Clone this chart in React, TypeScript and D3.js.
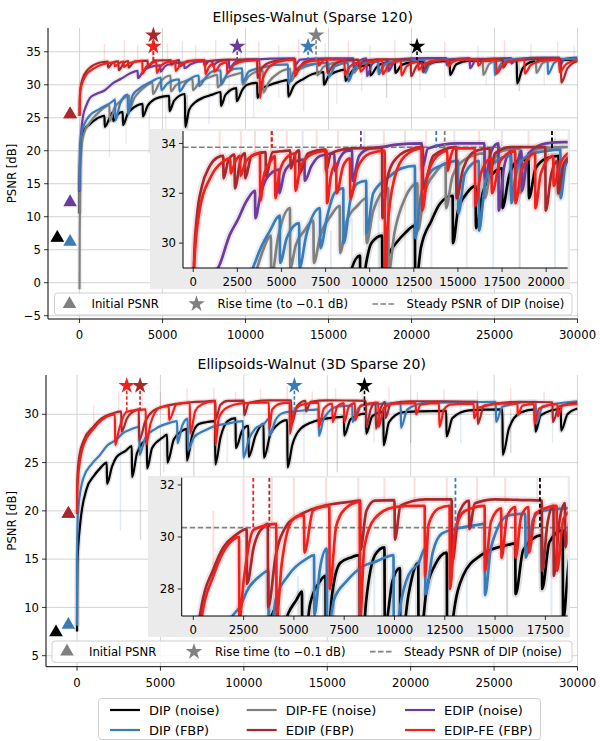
import React from "react"
import * as d3 from "d3"

type P = [number, number]

// methods, in legend order of the original figure
const METHOD_NAMES = ["DIP (noise)", "DIP-FE (noise)", "EDIP (noise)", "DIP (FBP)", "EDIP (FBP)", "EDIP-FE (FBP)"]
const METHOD_COLORS = ["#000000", "#808080", "#6a3d9a", "#3b7bb8", "#a8282c", "#f0201c"]
const LEGEND_ORDER = [0, 3, 1, 4, 2, 5]
// initial-PSNR markers are stacked so that DIP covers DIP-FE and EDIP covers EDIP-FE
const MARKER_ORDER = [5, 1, 0, 2, 3, 4]

// ---- Ellipses-Walnut (Sparse 120): PSNR curves ----
const TOP_DIP_NOISE: P[] = [
  [0, 10.5], [8, 14], [30, 18.5], [100, 21.5], [250, 23], [600, 24], [1000, 24.8], [1230, 25.1], [1500, 25.3],
  [1520, 23.6], [1800, 24.9], [2000, 25.8], [2030, 24.5], [2300, 25.5], [2600, 25.9], [2620, 23.9], [2900, 25.6],
  [3300, 26.6], [3800, 27.1], [3820, 25.2], [4100, 26.8], [4400, 27.6], [5000, 28.2], [5400, 28.3], [5420, 26.0],
  [5700, 27.6], [6350, 28.6], [6370, 23.6], [6600, 26.2], [7000, 27.4], [7500, 28.1], [8000, 28.5], [8500, 28.9],
  [8520, 26.8], [8800, 28.5], [9450, 29.5], [9470, 27.5], [9800, 29.2], [10100, 30.0], [10700, 30.3], [10720, 28.0],
  [11000, 29.4], [11500, 30.0], [12000, 30.4], [12560, 30.7], [12580, 28.2], [12900, 29.8], [13500, 30.9],
  [14000, 31.6], [14700, 31.9], [14720, 30.0], [15000, 31.3], [15500, 32.0], [16000, 32.3], [16020, 30.6],
  [16400, 32.0], [17000, 32.8], [17500, 33.0], [17520, 31.4], [17900, 32.7], [18400, 33.3], [19000, 33.35],
  [19020, 31.8], [19400, 33.0], [20000, 33.4], [20700, 33.5], [20720, 32.0], [21000, 33.0], [21500, 33.5],
  [22300, 33.6], [22320, 31.5], [22700, 33.1], [23500, 33.65], [25000, 33.7], [26340, 33.75], [26360, 30.2],
  [26700, 32.5], [27300, 33.5], [28500, 33.75], [30000, 33.8],
]
const TOP_DIPFE_NOISE: P[] = [
  [0, -1], [10, 8], [40, 16], [100, 20], [250, 22.5], [600, 24.2], [1235, 26.0], [1800, 26.9], [1820, 24.5],
  [2100, 26.5], [2500, 27.6], [3000, 28.3], [3020, 26.4], [3300, 28.0], [3590, 28.9], [3900, 29.6], [4400, 30.3],
  [4420, 28.6], [4800, 30.2], [5480, 31.4], [5500, 29.0], [5800, 29.9], [6300, 30.5], [6810, 30.9], [6830, 29.2],
  [7200, 30.3], [7800, 31.1], [8300, 31.5], [8320, 29.6], [8700, 30.9], [9300, 31.5], [9800, 31.8], [9820, 30.0],
  [10200, 31.3], [11050, 32.2], [11070, 28.8], [11400, 30.4], [12000, 31.8], [12700, 32.4], [12720, 30.5],
  [13100, 32.0], [13700, 32.8], [14300, 33.2], [14320, 31.4], [14700, 32.7], [15500, 33.4], [16500, 33.6],
  [16520, 31.8], [16900, 33.1], [17500, 33.7], [18500, 33.8], [18520, 32.0], [18900, 33.3], [19600, 33.8],
  [21000, 33.85], [23000, 33.9], [24300, 33.9], [24320, 31.5], [24700, 33.2], [25500, 33.85], [27500, 33.9],
  [27520, 31.8], [27900, 33.3], [28600, 33.85], [30000, 33.9],
]
const TOP_EDIP_NOISE: P[] = [
  [0, 13.8], [20, 17], [80, 22], [210, 25.2], [400, 26.8], [630, 28.0], [1000, 28.6], [1475, 29.1], [2080, 30.35],
  [2500, 30.9], [3030, 31.7], [3500, 32.1], [3520, 31.0], [3800, 31.9], [4160, 32.6], [4860, 32.95], [4880, 32.0],
  [5150, 32.8], [5480, 33.15], [6300, 33.35], [6320, 32.5], [6700, 33.1], [7180, 33.5], [8000, 33.6], [8020, 32.9],
  [8300, 33.4], [8700, 33.7], [9000, 33.72], [9020, 32.5], [9400, 33.5], [10000, 33.8], [10600, 33.85],
  [11500, 33.95], [12950, 34.0], [12970, 33.0], [13300, 33.8], [15000, 34.0], [16500, 34.0], [16520, 32.6],
  [16900, 33.7], [17290, 34.0], [17310, 31.3], [17600, 33.0], [18000, 33.7], [18020, 31.8], [18400, 33.3],
  [18600, 33.7], [18620, 32.1], [19000, 33.6], [20000, 34.0], [21000, 34.05], [22100, 34.05], [22120, 33.0],
  [22400, 33.8], [23500, 34.05], [23520, 32.5], [23900, 33.8], [26000, 34.05], [26020, 33.2], [26300, 33.9],
  [28000, 34.1], [28900, 34.1], [28920, 32.8], [29200, 33.9], [30000, 34.1],
]
const TOP_DIP_FBP: P[] = [
  [0, 14], [10, 17], [40, 20.5], [150, 23], [600, 25.3], [1200, 26.3], [2000, 27.5], [2140, 27.8], [2160, 24.6],
  [2450, 27.2], [2900, 28.5], [2920, 25.5], [3200, 28.4], [3600, 29.4], [4350, 30.5], [4900, 31.1], [4920, 29.2],
  [5300, 30.2], [6000, 30.8], [6020, 29.0], [6400, 30.3], [7180, 31.4], [7200, 29.8], [7600, 31.1], [8000, 32.0],
  [8500, 32.2], [8520, 30.0], [8900, 31.7], [9300, 32.4], [9800, 32.5], [9820, 30.4], [10200, 32.0], [11000, 32.6],
  [11800, 33.0], [12560, 33.1], [12580, 30.2], [12900, 31.9], [13500, 32.9], [14000, 33.1], [15000, 33.3],
  [15020, 31.2], [15400, 32.8], [16180, 33.3], [16200, 30.5], [16500, 32.2], [17000, 33.2], [18000, 33.5],
  [18020, 31.6], [18400, 33.1], [19200, 33.6], [20000, 33.7], [20800, 33.75], [20820, 31.8], [21100, 33.2],
  [22000, 33.8], [24000, 33.85], [25000, 33.85], [25020, 31.5], [25400, 33.2], [26000, 33.85], [28200, 33.9],
  [28220, 31.6], [28600, 33.3], [29200, 33.9], [30000, 33.9],
]
const TOP_EDIP_FBP: P[] = [
  [0, 25.3], [10, 27.5], [60, 29.5], [200, 31.0], [500, 32.3], [900, 33.05], [1400, 33.45], [1700, 33.5],
  [1720, 32.6], [2000, 33.35], [2340, 33.55], [2360, 32.2], [2700, 33.4], [2930, 33.6], [2950, 32.6], [3300, 33.5],
  [4100, 33.65], [4120, 32.7], [4500, 33.65], [5200, 33.7], [5500, 33.72], [5520, 33.0], [5800, 33.6],
  [6000, 33.72], [6020, 32.8], [6500, 33.6], [7500, 33.75], [7520, 32.9], [7800, 33.6], [9000, 33.8],
  [10700, 33.82], [10720, 31.0], [11000, 32.6], [11500, 33.4], [12500, 33.8], [13000, 33.85], [13020, 32.2],
  [13600, 33.5], [14900, 33.85], [14920, 31.8], [15300, 33.0], [16000, 33.7], [16800, 33.8], [16820, 32.8],
  [17100, 33.6], [18000, 33.85], [19950, 33.85], [19970, 31.3], [20300, 32.8], [20650, 33.3], [20670, 32.0],
  [21000, 33.2], [22000, 33.75], [24000, 33.85], [25500, 33.88], [25520, 32.6], [25800, 33.5], [27500, 33.9],
  [29000, 33.9], [29020, 30.3], [29400, 32.5], [30000, 33.6],
]
const TOP_EDIPFE_FBP: P[] = [
  [0, 25.3], [40, 29], [380, 31.4], [950, 32.6], [1700, 33.28], [2100, 33.4], [2120, 32.8], [2400, 33.3],
  [2650, 33.5], [2670, 32.7], [3000, 33.3], [3780, 33.6], [3800, 31.7], [4000, 32.7], [4400, 33.3], [4630, 33.5],
  [4650, 31.8], [4900, 32.9], [5400, 33.5], [5770, 33.6], [5790, 32.1], [6100, 33.1], [6800, 33.6], [7560, 33.7],
  [7580, 31.6], [7800, 32.7], [8100, 33.2], [8120, 32.0], [8500, 33.1], [8880, 33.4], [8900, 31.8], [9300, 33.0],
  [10000, 33.6], [10850, 33.7], [10870, 28.0], [11000, 30.5], [11400, 32.6], [12000, 33.5], [12950, 33.8],
  [12970, 31.3], [13300, 32.8], [14000, 33.6], [14400, 33.7], [14420, 32.9], [14600, 33.5], [14800, 33.8],
  [15960, 33.8], [15980, 31.5], [16300, 32.8], [16900, 33.4], [16920, 32.0], [17400, 33.3], [18240, 33.7],
  [18260, 31.6], [18600, 32.9], [19370, 33.6], [19390, 31.4], [19700, 32.8], [20400, 33.5], [20420, 32.3],
  [20800, 33.2], [21500, 33.7], [22200, 33.75], [22220, 32.8], [22500, 33.5], [23000, 33.8], [24000, 33.8],
  [24020, 32.9], [24300, 33.6], [25100, 33.8], [25120, 31.7], [25500, 33.0], [26000, 33.6], [26800, 33.8],
  [26820, 31.7], [27200, 33.0], [28000, 33.7], [28900, 33.8], [28920, 31.9], [29300, 33.1], [30000, 33.7],
]
// initial PSNR markers and rise times (per method index)
const TOP_INIT: P[] = [[-1340, 6.8], [-1340, 6.8], [-570, 12.2], [-570, 6.2], [-570, 25.5], [-570, 25.5]]
const TOP_RISE = [20330, 14250, 9500, 13770, 4450, 4450]
const TOP_STAR_Y = [35.8, 37.5, 35.8, 35.8, 37.5, 35.8]
const TOP_STEADY = 33.85
// faint single-run spikes: [iteration, low, high, method]
const TOP_FAINT: [number, number, number, number][] = [
  [1500, 33.4, 36.2, 5], [2700, 33.4, 36.8, 5], [3500, 33.5, 36.0, 4], [4400, 33.5, 37.0, 5], [5300, 33.5, 36.3, 5],
  [6200, 33.6, 36.6, 2], [7000, 33.6, 36.0, 5], [8200, 33.6, 36.8, 5], [9700, 33.7, 36.2, 3], [10800, 33.7, 36.6, 5],
  [12000, 33.8, 36.0, 2], [13200, 33.8, 36.9, 5], [14800, 33.8, 36.3, 3], [16200, 33.8, 36.7, 5], [17500, 33.9, 36.0, 2],
  [19000, 33.9, 36.8, 5], [20500, 33.9, 36.2, 1], [22000, 33.9, 36.5, 5], [24000, 33.9, 36.0, 3], [25600, 33.9, 36.7, 5],
  [27200, 33.9, 36.1, 2], [28800, 33.9, 36.6, 5], [29800, 33.9, 36.0, 3],
  [1800, 19.0, 26.5, 3], [2800, 21.0, 27.8, 1], [4200, 19.6, 27.5, 3], [5200, 22.0, 28.5, 1], [6500, 20.0, 28.4, 0],
  [7800, 24.0, 30.5, 3], [9000, 27.0, 31.0, 1], [10500, 25.0, 31.8, 3], [12000, 28.0, 32.5, 1], [13500, 26.0, 32.6, 3],
  [15500, 27.0, 33.2, 1], [17000, 29.0, 33.4, 3], [18500, 28.0, 33.5, 0], [20500, 29.0, 33.6, 3], [22000, 28.0, 33.7, 1],
  [24500, 30.0, 33.8, 3], [26500, 29.0, 33.8, 0], [28000, 30.0, 33.8, 1],
]

// ---- Ellipsoids-Walnut (3D Sparse 20) ----
const BOT_DIP_NOISE: P[] = [
  [0, 7.5], [5, 11], [20, 14.5], [180, 18.5], [580, 22.3], [1000, 23.6], [1380, 24.4], [1780, 25.0], [1800, 22.8],
  [2100, 24.6], [2380, 25.6], [2900, 26.2], [3280, 26.7], [3300, 23.5], [3600, 26.0], [4180, 27.3], [4200, 24.4],
  [4500, 26.5], [5140, 27.6], [5400, 27.9], [5420, 25.0], [5800, 27.4], [6300, 28.3], [6570, 28.5], [6590, 25.2],
  [6900, 27.8], [7300, 29.0], [7800, 29.2], [8270, 29.3], [8290, 24.8], [8600, 27.6], [9030, 29.3], [9500, 29.6],
  [9520, 26.5], [9900, 28.3], [10270, 28.8], [10290, 25.6], [10700, 27.8], [11180, 29.0], [11200, 25.5],
  [11600, 28.0], [12000, 28.9], [12600, 29.4], [12620, 24.5], [12900, 26.8], [13400, 28.5], [14300, 29.3],
  [15660, 29.7], [16000, 29.75], [16020, 27.8], [16400, 29.5], [17320, 30.07], [17340, 28.0], [17700, 29.8],
  [18360, 30.26], [18380, 26.8], [18700, 29.2], [19500, 30.2], [20500, 30.3], [22130, 30.35], [22150, 27.7],
  [22500, 29.6], [23500, 30.4], [25500, 30.5], [25520, 25.8], [25900, 28.6], [26600, 30.2], [27460, 30.5],
  [27480, 28.2], [27800, 29.9], [29000, 30.55], [29020, 28.3], [29400, 30.0], [30000, 30.6],
]
const BOT_DIP_FBP: P[] = [
  [0, 8.1], [5, 13], [15, 17], [60, 20.0], [380, 23.4], [900, 24.9], [1380, 25.8], [1825, 26.8], [2380, 27.4],
  [2650, 27.9], [3315, 28.5], [3730, 28.7], [3750, 25.8], [4100, 27.6], [4700, 28.5], [5640, 29.17], [6000, 29.3],
  [6020, 27.0], [6300, 28.8], [6630, 29.55], [6650, 26.3], [7000, 27.6], [7620, 28.3], [8500, 28.9], [9030, 29.04],
  [9500, 29.2], [9950, 29.3], [9970, 25.5], [10300, 27.4], [10690, 28.53], [11200, 29.0], [11520, 29.55],
  [11540, 27.8], [11900, 29.4], [12350, 30.13], [13000, 30.3], [14000, 30.45], [14480, 30.5], [14500, 27.76],
  [14800, 29.6], [15660, 30.83], [16500, 30.9], [16520, 29.2], [16900, 30.7], [17320, 31.0], [18470, 31.1],
  [19400, 31.15], [19420, 28.6], [19800, 30.5], [21000, 31.2], [23000, 31.25], [25100, 31.3], [25120, 29.2],
  [25500, 30.8], [27500, 31.3], [27520, 29.0], [27900, 30.8], [30000, 31.35],
]
const BOT_EDIP_FBP: P[] = [
  [0, 19.7], [10, 22.5], [40, 24.0], [150, 25.8], [400, 27.3], [994, 28.75], [1490, 29.6], [2070, 30.05],
  [2650, 30.3], [2670, 28.2], [3000, 29.6], [3500, 30.4], [3700, 30.5], [3720, 27.3], [4100, 29.3], [4600, 30.4],
  [5200, 30.8], [5960, 31.08], [6800, 31.25], [7800, 31.35], [8290, 31.4], [8310, 29.5], [8600, 31.0],
  [9030, 31.4], [10000, 31.42], [10020, 29.9], [10300, 31.2], [11500, 31.45], [12840, 31.45], [12860, 29.0],
  [13200, 30.9], [13700, 31.4], [13720, 30.3], [14000, 31.3], [15000, 31.45], [16500, 31.42], [17320, 31.4],
  [17340, 28.7], [17600, 30.5], [17900, 31.2], [17920, 28.5], [18200, 30.6], [18470, 31.3], [18490, 29.6],
  [18800, 31.1], [20000, 31.35], [22000, 31.35], [24000, 31.3], [24020, 29.0], [24400, 30.9], [26500, 31.3],
  [28500, 31.25], [28520, 29.2], [28900, 30.8], [30000, 31.2],
]
const BOT_EDIPFE_FBP: P[] = [
  [0, 19.7], [8, 21.5], [30, 22.5], [120, 24.4], [417, 26.9], [994, 28.5], [1490, 29.42], [2070, 29.94],
  [2270, 30.0], [2290, 26.8], [2500, 28.3], [2980, 30.26], [3650, 30.45], [4120, 30.5], [4140, 26.9], [4400, 29.0],
  [4970, 30.7], [5500, 30.85], [5520, 29.4], [5960, 31.03], [6760, 31.2], [6780, 28.0], [7100, 30.4],
  [7500, 31.05], [8270, 31.35], [8290, 26.8], [8500, 29.6], [9000, 30.7], [10000, 31.15], [11000, 31.2],
  [11500, 31.2], [11520, 28.5], [11700, 30.5], [12200, 31.1], [12740, 31.2], [12760, 28.0], [13000, 30.2],
  [13500, 31.0], [14480, 31.2], [14500, 28.7], [14800, 30.6], [15300, 31.1], [15320, 29.2], [15600, 30.8],
  [16000, 31.15], [16020, 29.2], [16300, 30.8], [16660, 31.15], [16680, 29.4], [17000, 30.9], [18060, 31.2],
  [18080, 28.7], [18400, 30.7], [19000, 31.1], [20300, 31.15], [20320, 30.0], [20600, 31.0], [21700, 31.15],
  [21720, 28.7], [22000, 30.5], [22400, 31.0], [23780, 31.1], [23800, 29.6], [24100, 30.7], [25500, 31.1],
  [26400, 31.1], [26420, 29.9], [26700, 30.9], [27400, 31.05], [27420, 29.0], [27700, 30.6], [28800, 31.05],
  [28820, 29.8], [29100, 30.9], [30000, 31.05],
]
const BOT_INIT: P[] = [[-1260, 7.43], [-1260, 7.43], [-520, 8.2], [-520, 8.2], [-520, 19.7], [-520, 19.7]]
const BOT_RISE = [17230, 0, 0, 13030, 3780, 2980]
const BOT_STAR_Y = [32.96, 0, 0, 32.96, 32.96, 32.96]
const BOT_STEADY = 30.36
const BOT_FAINT: [number, number, number, number][] = [
  [1000, 28.5, 31.0, 5], [2500, 30.0, 32.4, 5], [3900, 30.4, 32.6, 4], [5000, 30.7, 32.3, 5], [6600, 31.1, 32.7, 5],
  [8200, 31.3, 32.8, 4], [9500, 31.3, 32.3, 5], [11000, 31.3, 32.6, 5], [12600, 31.3, 32.9, 4], [14100, 31.3, 32.4, 5],
  [15500, 31.3, 32.7, 5], [17100, 31.3, 32.5, 4], [18700, 31.3, 32.8, 5], [20400, 31.3, 32.3, 5], [22000, 31.3, 32.6, 4],
  [24000, 31.3, 32.4, 5], [26000, 31.3, 32.7, 5], [28000, 31.2, 32.3, 4],
  [2600, 18.0, 27.0, 3], [3800, 17.0, 27.5, 0], [5200, 24.0, 28.5, 3], [7000, 22.0, 29.0, 0], [9000, 25.0, 29.5, 3],
  [11500, 26.0, 29.8, 0], [13600, 25.0, 30.3, 3], [15600, 24.0, 29.8, 0], [17800, 27.0, 30.8, 3], [20000, 27.0, 30.3, 0],
  [23000, 27.0, 31.0, 3], [26000, 26.0, 30.5, 0], [28500, 27.0, 31.2, 3],
]

const FONT = "DejaVu Sans, Liberation Sans, sans-serif"
const MINUS = "\u2212"
const fmt = (v: number) => (v < 0 ? MINUS + Math.abs(v) : String(v))

type Layout = {
  title: string; titleY: number
  left: number; right: number; top: number; bottom: number
  xDom: [number, number]; yDom: [number, number]; yTicks: number[]
  inset: { left: number; right: number; top: number; bottom: number; xDom: [number, number]; yDom: [number, number]
    xTicks: number[]; yTicks: number[]; bg: [number, number, number, number] }
  legendBox: [number, number, number, number]
}

const TOP_LAYOUT: Layout = {
  title: "Ellipses-Walnut (Sparse 120)", titleY: 22,
  left: 48, right: 577.5, top: 28, bottom: 319,
  xDom: [-1900, 30000], yDom: [-5.5, 38.6], yTicks: d3.range(-5, 36, 5),
  inset: { left: 183, right: 567.7, top: 131, bottom: 268, xDom: [-580, 21220], yDom: [29.0, 34.5],
    xTicks: d3.range(0, 20001, 2500), yTicks: [30, 32, 34], bg: [150, 129, 570, 289] },
  legendBox: [54.5, 293, 572, 315],
}
const BOT_LAYOUT: Layout = {
  title: "Ellipsoids-Walnut (3D Sparse 20)", titleY: 369,
  left: 46, right: 577.5, top: 375, bottom: 666.7,
  xDom: [-1860, 30000], yDom: [3.86, 34.07], yTicks: d3.range(5, 31, 5),
  inset: { left: 181.7, right: 567.7, top: 477.7, bottom: 616, xDom: [-577, 18610], yDom: [26.96, 32.28],
    xTicks: d3.range(0, 17501, 2500), yTicks: [28, 30, 32], bg: [148, 476, 570, 637] },
  legendBox: [52, 641, 572, 662.3],
}

const starPath = d3.symbol(d3.symbolStar, 85)() as string
const triPath = d3.symbol(d3.symbolTriangle, 80)() as string

function Panel(props: {
  L: Layout; id: string; series: [number, P[]][]; faint: [number, number, number, number][]
  init: P[]; rise: number[]; starY: number[]; steady: number
}) {
  const { L, id, series, faint, init, rise, starY, steady } = props
  const x = d3.scaleLinear().domain(L.xDom).range([L.left, L.right])
  const y = d3.scaleLinear().domain(L.yDom).range([L.bottom, L.top])
  const I = L.inset
  const xi = d3.scaleLinear().domain(I.xDom).range([I.left, I.right])
  const yi = d3.scaleLinear().domain(I.yDom).range([I.bottom, I.top])
  const mainLine = d3.line<P>().x(d => x(d[0])).y(d => y(d[1])).curve(d3.curveMonotoneX)
  const insetLine = d3.line<P>().x(d => xi(d[0])).y(d => yi(d[1])).curve(d3.curveMonotoneX)
  const methods = series.map(s => s[0])
  const markerMethods = MARKER_ORDER.filter(m => methods.includes(m))
  const xTicks = d3.range(0, 30001, 5000)
  const [lx0, ly0, lx1, ly1] = L.legendBox
  const lyc = (ly0 + ly1) / 2

  return (
    <g fontFamily={FONT}>
      <defs>
        <clipPath id={`main-${id}`}><rect x={L.left} y={L.top - 20} width={L.right - L.left} height={L.bottom - L.top + 20} /></clipPath>
        <clipPath id={`inset-${id}`}><rect x={I.left} y={I.top} width={I.right - I.left} height={I.bottom - I.top} /></clipPath>
      </defs>
      <text x={(L.left + L.right) / 2} y={L.titleY} textAnchor="middle" fontSize={14}>{L.title}</text>
      {/* grid */}
      {xTicks.map(t => <line key={"gx" + t} x1={x(t)} x2={x(t)} y1={L.top} y2={L.bottom} stroke="#c8c8c8" strokeWidth={0.8} />)}
      {L.yTicks.map(t => <line key={"gy" + t} x1={L.left} x2={L.right} y1={y(t)} y2={y(t)} stroke="#c8c8c8" strokeWidth={0.8} />)}
      {/* curves */}
      <g clipPath={`url(#main-${id})`}>
        {faint.map((f, i) => (
          <line key={"f" + i} x1={x(f[0])} x2={x(f[0])} y1={y(f[1])} y2={y(f[2])} stroke={METHOD_COLORS[f[3]]} strokeOpacity={0.15} strokeWidth={1.4} />
        ))}
        {series.map(([m, pts]) => (
          <path key={"h" + m} d={mainLine(pts) as string} fill="none" stroke={METHOD_COLORS[m]} strokeOpacity={0.12} strokeWidth={5} />
        ))}
        {series.map(([m, pts]) => (
          <path key={"c" + m} d={mainLine(pts) as string} fill="none" stroke={METHOD_COLORS[m]} strokeWidth={2.2} strokeLinejoin="round" />
        ))}
        {methods.map(m => (
          <line key={"r" + m} x1={x(rise[m])} x2={x(rise[m])} y1={y(starY[m]) + 5} y2={y(steady - 0.1)} stroke={METHOD_COLORS[m]} strokeWidth={1.6} strokeDasharray="3.5,2" />
        ))}
      </g>
      {markerMethods.map(m => (
        <path key={"t" + m} d={triPath} transform={`translate(${x(init[m][0])},${y(init[m][1])})`} fill={METHOD_COLORS[m]} />
      ))}
      {methods.map(m => (
        <path key={"s" + m} d={starPath} transform={`translate(${x(rise[m])},${y(starY[m])})`} fill={METHOD_COLORS[m]} />
      ))}
      {/* axes */}
      <line x1={L.left} x2={L.left} y1={L.top} y2={L.bottom} stroke="#000" strokeWidth={1} />
      <line x1={L.left} x2={L.right} y1={L.bottom} y2={L.bottom} stroke="#000" strokeWidth={1} />
      {xTicks.map(t => (
        <g key={"xt" + t}>
          <line x1={x(t)} x2={x(t)} y1={L.bottom} y2={L.bottom + 4} stroke="#000" strokeWidth={0.8} />
          <text x={x(t)} y={L.bottom + 20} textAnchor="middle" fontSize={11.7}>{fmt(t)}</text>
        </g>
      ))}
      {L.yTicks.map(t => (
        <g key={"yt" + t}>
          <line x1={L.left - 4} x2={L.left} y1={y(t)} y2={y(t)} stroke="#000" strokeWidth={0.8} />
          <text x={L.left - 7} y={y(t) + 4.2} textAnchor="end" fontSize={11.7}>{fmt(t)}</text>
        </g>
      ))}
      <text transform={`translate(16,${(L.top + L.bottom) / 2}) rotate(-90)`} textAnchor="middle" fontSize={11.7}>PSNR [dB]</text>

      {/* inset */}
      <rect x={I.bg[0]} y={I.bg[1]} width={I.bg[2] - I.bg[0]} height={I.bg[3] - I.bg[1]} fill="#ebebeb" />
      <rect x={I.left} y={I.top} width={I.right - I.left} height={I.bottom - I.top} fill="#fff" />
      <g clipPath={`url(#inset-${id})`}>
        {faint.map((f, i) => (
          <line key={"fi" + i} x1={xi(f[0])} x2={xi(f[0])} y1={yi(f[1])} y2={yi(f[2])} stroke={METHOD_COLORS[f[3]]} strokeOpacity={0.15} strokeWidth={2} />
        ))}
        <line x1={I.left} x2={I.right} y1={yi(steady)} y2={yi(steady)} stroke="#808080" strokeWidth={1.6} strokeDasharray="5.5,2.5" />
        {series.map(([m, pts]) => (
          <path key={"hi" + m} d={insetLine(pts) as string} fill="none" stroke={METHOD_COLORS[m]} strokeOpacity={0.12} strokeWidth={7} />
        ))}
        {series.map(([m, pts]) => (
          <path key={"ci" + m} d={insetLine(pts) as string} fill="none" stroke={METHOD_COLORS[m]} strokeWidth={2.7} strokeLinejoin="round" />
        ))}
        {methods.map(m => (
          <line key={"ri" + m} x1={xi(rise[m])} x2={xi(rise[m])} y1={I.top} y2={yi(steady - 0.1)} stroke={METHOD_COLORS[m]} strokeWidth={1.8} strokeDasharray="4,2.5" />
        ))}
      </g>
      <line x1={I.left} x2={I.left} y1={I.top} y2={I.bottom} stroke="#000" strokeWidth={1} />
      <line x1={I.left} x2={I.right} y1={I.bottom} y2={I.bottom} stroke="#000" strokeWidth={1} />
      {I.xTicks.map(t => (
        <g key={"ixt" + t}>
          <line x1={xi(t)} x2={xi(t)} y1={I.bottom} y2={I.bottom + 4} stroke="#000" strokeWidth={0.8} />
          <text x={xi(t)} y={I.bottom + 18} textAnchor="middle" fontSize={11.7}>{t}</text>
        </g>
      ))}
      {I.yTicks.map(t => (
        <g key={"iyt" + t}>
          <line x1={I.left - 4} x2={I.left} y1={yi(t)} y2={yi(t)} stroke="#000" strokeWidth={0.8} />
          <text x={I.left - 7} y={yi(t) + 4.2} textAnchor="end" fontSize={11.7}>{t}</text>
        </g>
      ))}

      {/* marker legend */}
      <rect x={lx0} y={ly0} width={lx1 - lx0} height={ly1 - ly0} rx={3} fill="#fff" fillOpacity={0.85} stroke="#d0d0d0" strokeWidth={1} />
      <path d={triPath} transform={`translate(${lx0 + 15},${lyc})`} fill="#808080" />
      <text x={lx0 + 37} y={lyc + 4.2} fontSize={11.7}>Initial PSNR</text>
      <path d={starPath} transform={`translate(${lx0 + 142},${lyc})`} fill="#808080" />
      <text x={lx0 + 163} y={lyc + 4.2} fontSize={11.7}>{`Rise time (to ${MINUS}0.1 dB)`}</text>
      <line x1={lx0 + 318} x2={lx0 + 342} y1={lyc} y2={lyc} stroke="#808080" strokeWidth={1.6} strokeDasharray="5.5,2.5" />
      <text x={lx0 + 352} y={lyc + 4.2} fontSize={11.7}>Steady PSNR of DIP (noise)</text>
    </g>
  )
}

export default function App() {
  const topSeries: [number, P[]][] = [
    [0, TOP_DIP_NOISE], [1, TOP_DIPFE_NOISE], [2, TOP_EDIP_NOISE], [3, TOP_DIP_FBP], [4, TOP_EDIP_FBP], [5, TOP_EDIPFE_FBP],
  ]
  const botSeries: [number, P[]][] = [
    [0, BOT_DIP_NOISE], [3, BOT_DIP_FBP], [4, BOT_EDIP_FBP], [5, BOT_EDIPFE_FBP],
  ]
  const colX = [110, 246.7, 405]
  return (
    <svg width={600} height={741} style={{ position: "absolute", left: 0, top: 0, background: "#fff" }}>
      <rect width={600} height={741} fill="#fff" />
      <Panel L={TOP_LAYOUT} id="top" series={topSeries} faint={TOP_FAINT} init={TOP_INIT} rise={TOP_RISE} starY={TOP_STAR_Y} steady={TOP_STEADY} />
      <Panel L={BOT_LAYOUT} id="bot" series={botSeries} faint={BOT_FAINT} init={BOT_INIT} rise={BOT_RISE} starY={BOT_STAR_Y} steady={BOT_STEADY} />
      <g fontFamily={FONT}>
        <rect x={98.5} y={698.5} width={442} height={41} rx={3} fill="#fff" stroke="#d0d0d0" strokeWidth={1} />
        {LEGEND_ORDER.map((m, i) => {
          const cx = colX[Math.floor(i / 2)]
          const cy = i % 2 === 0 ? 710 : 730
          return (
            <g key={m}>
              <line x1={cx} x2={cx + 30} y1={cy} y2={cy} stroke={METHOD_COLORS[m]} strokeWidth={2.2} />
              <text x={cx + 39} y={cy + 4.6} fontSize={13}>{METHOD_NAMES[m]}</text>
            </g>
          )
        })}
      </g>
    </svg>
  )
}
